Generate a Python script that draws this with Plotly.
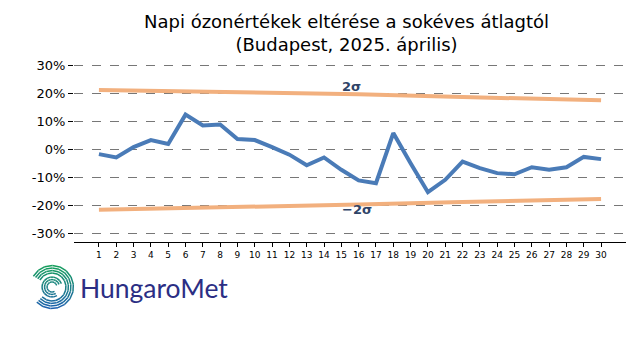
import math
import plotly.graph_objects as go

days = list(range(1, 31))
ozone_dev = [-1.5, -2.7, 1.0, 3.5, 2.1, 12.6, 8.7, 9.1, 3.9, 3.5,
             1.0, -1.7, -5.5, -2.7, -7.1, -10.9, -11.9, 6.0, -4.8, -15.1,
             -10.7, -4.2, -6.5, -8.3, -8.7, -6.2, -7.1, -6.2, -2.5, -3.3]
sigma_days = [1, 8, 16, 22, 30]
sigma_upper = [21.4, 20.8, 19.9, 18.9, 17.7]
sigma_lower = [-21.4, -20.6, -19.5, -18.6, -17.5]
y_ticks = [-30, -20, -10, 0, 10, 20, 30]

W, H = 640, 360
ML, MR, MT, MB = 74, 14, 62, 118
PW, PH = W - ML - MR, H - MT - MB

fig = go.Figure()
fig.add_trace(go.Scatter(x=sigma_days, y=sigma_upper, mode="lines",
                         line=dict(color="#f2b07e", width=4), hoverinfo="skip"))
fig.add_trace(go.Scatter(x=sigma_days, y=sigma_lower, mode="lines",
                         line=dict(color="#f2b07e", width=4), hoverinfo="skip"))
fig.add_trace(go.Scatter(x=days, y=ozone_dev, mode="lines",
                         line=dict(color="#4a7bb7", width=4)))

fig.add_annotation(x=15.6, y=22.6, text="<b>2σ</b>", showarrow=False,
                   font=dict(size=13, color="#2f4468", family="DejaVu Sans"))
fig.add_annotation(x=15.9, y=-21.2, text="<b>−2σ</b>", showarrow=False,
                   font=dict(size=13, color="#2f4468", family="DejaVu Sans"))

def px2paper(px, py):
    return (px - ML) / PW, (H - MB - py) / PH

tx, ty = px2paper(346, 33)
fig.add_annotation(x=tx, y=ty, xref="paper", yref="paper", xanchor="center",
                   yanchor="middle", showarrow=False,
                   text="Napi ózonértékek eltérése a sokéves átlagtól<br>(Budapest, 2025. április)",
                   font=dict(size=18, color="black", family="DejaVu Sans"))

# Logo: spiral icon
def mix(c1, c2, t):
    a = [int(c1[i:i + 2], 16) for i in (1, 3, 5)]
    b = [int(c2[i:i + 2], 16) for i in (1, 3, 5)]
    return "#" + "".join(f"{int(round(a[k] + (b[k] - a[k]) * t)):02x}" for k in range(3))

cx, cy = 52, 287
green, blue = "#16a05a", "#1d5fb0"
arcs = []
for r in [14, 16.5, 19, 21.5]:
    arcs.append((r, 150, -135))
for r in [5, 7.5, 10]:
    arcs.append((r, 20, 300))
for r, d0, d1 in arcs:
    n = 14
    for i in range(n):
        a0 = math.radians(d0 + (d1 - d0) * i / n)
        a1 = math.radians(d0 + (d1 - d0) * (i + 1) / n)
        p0 = (cx + r * math.cos(a0), cy - r * math.sin(a0))
        p1 = (cx + r * math.cos(a1), cy - r * math.sin(a1))
        ymid = (p0[1] + p1[1]) / 2
        t = min(max((ymid - (cy - 22)) / 44, 0), 1)
        q0, q1 = px2paper(*p0), px2paper(*p1)
        fig.add_shape(type="line", xref="paper", yref="paper",
                      x0=q0[0], y0=q0[1], x1=q1[0], y1=q1[1],
                      line=dict(color=mix(green, blue, t), width=1.5))

lx, ly = px2paper(78, 288)
fig.add_annotation(x=lx, y=ly, xref="paper", yref="paper", xanchor="left",
                   yanchor="middle", text="HungaroMet", showarrow=False,
                   font=dict(size=26.5, color="#2b2e84", family="Lato", weight=400))

fig.update_layout(
    width=W, height=H,
    margin=dict(l=ML, r=MR, t=MT, b=MB, autoexpand=False),
    paper_bgcolor="white", plot_bgcolor="white",
    showlegend=False,
    font=dict(family="DejaVu Sans", color="black"),
)
fig.update_xaxes(range=[-0.44, 31.44], tickvals=days, ticktext=[str(d) for d in days],
                 ticks="outside", ticklen=4, tickcolor="black", showline=True,
                 linecolor="black", linewidth=1, showgrid=False, zeroline=False,
                 automargin=False, tickfont=dict(size=9, color="black"))
fig.update_yaxes(range=[-32.9, 31.4], tickvals=y_ticks,
                 ticktext=[f"{v}%" for v in y_ticks],
                 showgrid=True, gridcolor="#777777", griddash="dash", gridwidth=1,
                 zeroline=False, showline=False, ticks="outside", ticklen=5,
                 tickcolor="black", tickwidth=1, automargin=False,
                 tickfont=dict(size=13, color="black"))

fig.write_html("out.html", config={"displayModeBar": False},
               post_script="document.body.style.margin='0';document.body.style.overflow='hidden';")
